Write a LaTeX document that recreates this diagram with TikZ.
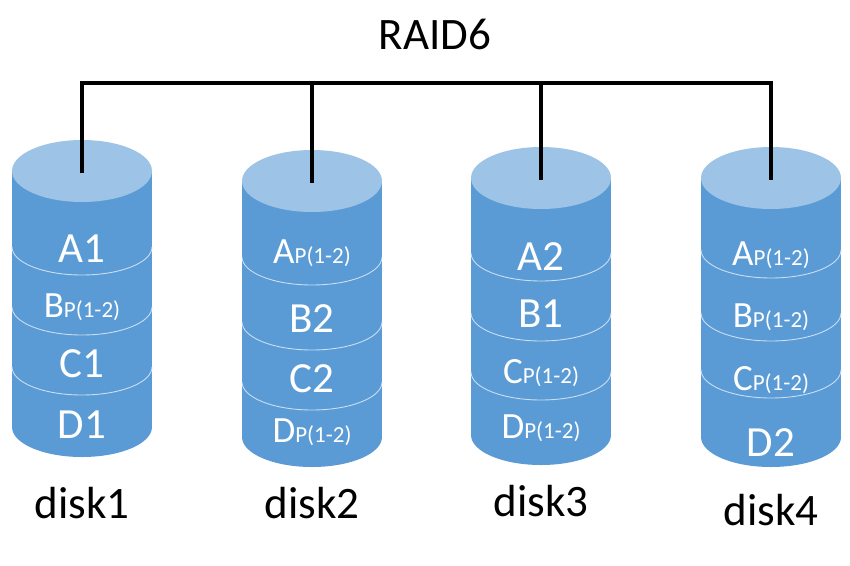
\documentclass[tikz,border=0pt]{standalone}
\usepackage{fontspec}
\setmainfont{Carlito}
\usepackage{tikz}
\usetikzlibrary{calc}
\usetikzlibrary{positioning}
\definecolor{diskside}{HTML}{5B9BD5}
\definecolor{disktop}{HTML}{9DC3E6}
\definecolor{diskline}{HTML}{C9DEF2}
\tikzstyle{raidtitle} = [anchor=base, font=\fontsize{45}{50}\selectfont]
\tikzstyle{disklabel} = [anchor=base, font=\fontsize{45}{50}\selectfont]
\tikzstyle{block} = [anchor=base, white, inner sep=0pt, font=\fontsize{43}{48}\selectfont]
\tikzstyle{stripe} = [diskline, line width=0.9pt]
\tikzstyle{bus} = [draw, line width=3.4pt]
\newcommand{\parity}[1]{{\fontsize{37}{40}\selectfont #1}{\fontsize{23}{25}\selectfont P(1-2)}}
\newcommand{\diskbody}[6]{%
  \fill[diskside] (#1-70,#2) rectangle (#1+70,#3);
  \fill[diskside] (#1,#3) ellipse [x radius=70, y radius=30];
  \fill[disktop] (#1,#2) ellipse [x radius=70, y radius=31];
  \foreach \s in {#4,#5,#6}
    \draw[stripe] (#1-70,\s) arc [start angle=180, end angle=0, x radius=70, y radius=28];
}

\begin{document}
\begin{tikzpicture}[x=1pt, y=-1pt]
  \useasboundingbox (0,0) rectangle (850,565);
  % disks
  \diskbody{82}{171}{427}{247}{307}{367}
  \diskbody{312}{181}{437}{257}{322}{382}
  \diskbody{541}{178}{435}{253}{313}{372}
  \diskbody{771}{178}{437}{250}{313}{370}

  \node [raidtitle, name=raid] at (435,49) {RAID6};
  \coordinate (bus1) at (82,83);
  \coordinate (bus2) at (312,83);
  \coordinate (bus3) at (541,83);
  \coordinate (bus4) at (771,83);
  \coordinate (top1) at (82,173);
  \coordinate (top2) at (312,183);
  \coordinate (top3) at (541,180);
  \coordinate (top4) at (771,180);
  \draw [bus] (top1) -- (bus1) -- (bus4) -- (top4);
  \draw [bus] (bus2) -- (top2);
  \draw [bus] (bus3) -- (top3);

  % blocks on each disk
  \node [block, name=d1a] at (82,262) {A1};
  \node [block, name=d1b] at (82,317) {\parity{B}};
  \node [block, name=d1c] at (82,377) {C1};
  \node [block, name=d1d] at (82,438) {D1};

  \node [block, name=d2a] at (312,263) {\parity{A}};
  \node [block, name=d2b] at (312,332) {B2};
  \node [block, name=d2c] at (312,392) {C2};
  \node [block, name=d2d] at (312,442) {\parity{D}};

  \node [block, name=d3a] at (541,270) {A2};
  \node [block, name=d3b] at (541,327) {B1};
  \node [block, name=d3c] at (541,383) {\parity{C}};
  \node [block, name=d3d] at (541,438) {\parity{D}};

  \node [block, name=d4a] at (771,265) {\parity{A}};
  \node [block, name=d4b] at (771,327) {\parity{B}};
  \node [block, name=d4c] at (771,390) {\parity{C}};
  \node [block, name=d4d] at (771,456) {D2};

  % disk names
  \node [disklabel, name=disk1] at (82,518) {disk1};
  \node [disklabel, name=disk2] at (312,518) {disk2};
  \node [disklabel, name=disk3] at (541,516) {disk3};
  \node [disklabel, name=disk4] at (771,525) {disk4};
\end{tikzpicture}
\end{document}
